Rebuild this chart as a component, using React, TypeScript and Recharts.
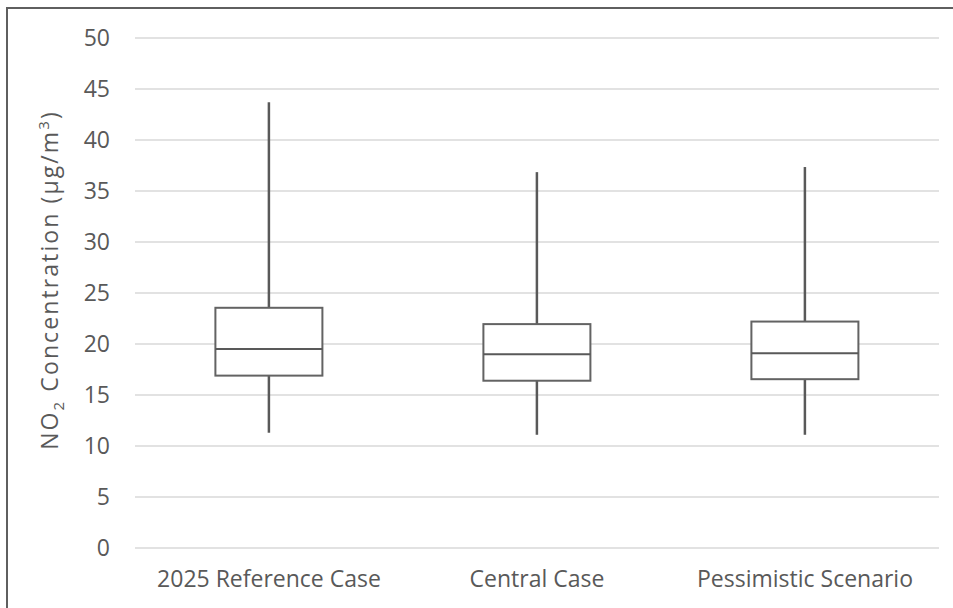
import React from 'react';
import { ComposedChart, Bar, XAxis, YAxis, CartesianGrid } from 'recharts';

const categories = ['2025 Reference Case', 'Central Case', 'Pessimistic Scenario'];
const minValues = [11.3, 11.1, 11.1];
const q1Values = [16.9, 16.4, 16.55];
const medianValues = [19.5, 19.0, 19.1];
const q3Values = [23.55, 21.95, 22.2];
const maxValues = [43.7, 36.85, 37.35];
const yTicks = [0, 5, 10, 15, 20, 25, 30, 35, 40, 45, 50];

const data = categories.map((name, i) => ({
  name,
  min: minValues[i],
  q1: q1Values[i],
  median: medianValues[i],
  q3: q3Values[i],
  max: maxValues[i],
  range: [minValues[i], maxValues[i]],
}));

const FONT = '"Open Sans", "Noto Sans", sans-serif';
const TEXT = '#595959';

const BoxShape = (props: any) => {
  const { x, y, width, height, payload } = props;
  if (!payload) return null;
  const top = Math.min(y, y + height);
  const bot = Math.max(y, y + height);
  const { min, q1, median, q3, max } = payload;
  const pix = (v: number) => bot - ((v - min) / (max - min)) * (bot - top);
  const cx = x + width / 2;
  return (
    <g>
      <line x1={cx} x2={cx} y1={pix(max)} y2={pix(q3)} stroke="#595959" strokeWidth={2.5} />
      <line x1={cx} x2={cx} y1={pix(q1)} y2={pix(min)} stroke="#595959" strokeWidth={2.5} />
      <rect x={x} y={pix(q3)} width={width} height={pix(q1) - pix(q3)} fill="#ffffff" stroke="#636363" strokeWidth={2} />
      <line x1={x} x2={x + width} y1={pix(median)} y2={pix(median)} stroke="#595959" strokeWidth={2} />
    </g>
  );
};

const YLabel = (props: any) => {
  const vb = props.viewBox || { x: 0, y: 38, width: 135, height: 510 };
  const cx = vb.x + 58;
  const cy = vb.y + vb.height / 2 - 13;
  return (
    <text
      x={cx}
      y={cy}
      transform={`rotate(-90 ${cx} ${cy})`}
      textAnchor="middle"
      fill={TEXT}
      fontSize={23}
      fontFamily={FONT}
      letterSpacing={2.1}
    >
      NO
      <tspan dy={6} fontSize={15}>2</tspan>
      <tspan dy={-6}> Concentration (μg/m</tspan>
      <tspan dy={-9} fontSize={15}>3</tspan>
      <tspan dy={9}>)</tspan>
    </text>
  );
};

export default function App() {
  return (
    <div style={{ position: 'absolute', left: 0, top: 0, width: 953, height: 608, background: '#fff', overflow: 'hidden' }}>
      <div
        style={{
          position: 'absolute',
          left: 6,
          top: 7,
          width: 947,
          height: 601,
          borderLeft: '2px solid #5f5f5f',
          borderTop: '2px solid #5f5f5f',
          boxSizing: 'border-box',
        }}
      />
      <div style={{ position: 'absolute', left: 0, top: 0 }}>
        <ComposedChart
          width={953}
          height={608}
          data={data}
          margin={{ top: 38, right: 14, bottom: 0, left: 0 }}
          barCategoryGap="30%"
        >
          <CartesianGrid vertical={false} stroke="#d9d9d9" strokeWidth={1.5} />
          <XAxis
            dataKey="name"
            height={60}
            axisLine={false}
            tickLine={false}
            tickMargin={17}
            tick={{ fill: TEXT, fontSize: 23, fontFamily: FONT }}
            interval={0}
          />
          <YAxis
            domain={[0, 50]}
            ticks={yTicks}
            width={135}
            axisLine={false}
            tickLine={false}
            tickMargin={19}
            tick={{ fill: TEXT, fontSize: 23, fontFamily: FONT }}
            label={<YLabel />}
          />
          <Bar dataKey="range" shape={<BoxShape />} isAnimationActive={false} />
        </ComposedChart>
      </div>
    </div>
  );
}
